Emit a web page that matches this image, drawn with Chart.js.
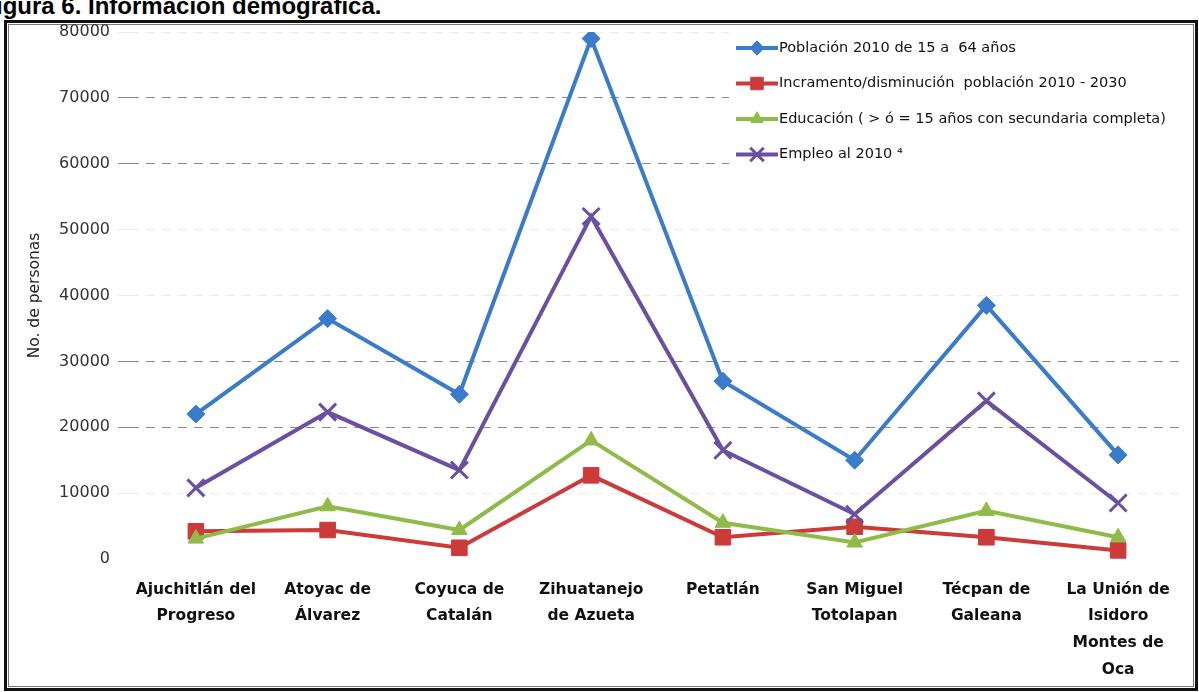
<html>
<head>
<style>
  body { margin: 0; background: #fff; }
  #wrap { position: relative; width: 1199px; height: 692px; overflow: hidden; background: #fff; }
  #titulo { position: absolute; left: -4px; top: -8px; font: bold 24px "Liberation Sans", Arial, sans-serif; color: #000; white-space: nowrap; }
  #marco { position: absolute; left: 4px; top: 20px; width: 1194px; height: 671px; box-sizing: border-box;
           border: 3px solid #111; box-shadow: inset 0 0 0 1px #fff, inset 0 0 0 2px #777; }
  #grafica { position: absolute; left: 0; top: 0; }
</style>
</head>
<body>
<div id="wrap">
  <div id="titulo">igura 6. Información demográfica.</div>
  <div id="marco"></div>
  <canvas id="grafica" width="1199" height="692"></canvas>
</div>
<script src="https://cdn.jsdelivr.net/npm/chart.js"></script>
<script>
const municipios = [
  ['Ajuchitlán del', 'Progreso'],
  ['Atoyac de', 'Álvarez'],
  ['Coyuca de', 'Catalán'],
  ['Zihuatanejo', 'de Azueta'],
  'Petatlán',
  ['San Miguel', 'Totolapan'],
  ['Técpan de', 'Galeana'],
  ['La Unión de', 'Isidoro', 'Montes de', 'Oca'],
];

const nombresSeries = [
  'Población 2010 de 15 a  64 años',
  'Incramento/disminución  población 2010 - 2030',
  'Educación ( > ó = 15 años con secundaria completa)',
  'Empleo al 2010 ⁴',
];

const poblacion = [22000, 36500, 25000, 79000, 27000, 15000, 38500, 15800];
const incremento = [4200, 4400, 1700, 12700, 3300, 4900, 3300, 1300];
const educacion = [3100, 8000, 4400, 18000, 5500, 2500, 7300, 3300];
const empleo = [10800, 22300, 13500, 52000, 16500, 6800, 24000, 8500];

const ticksY = [0, 10000, 20000, 30000, 40000, 50000, 60000, 70000, 80000];
// las líneas que se ven marcadas en la cuadrícula
const lineasMarcadas = [20000, 30000, 60000, 70000];

const colorLinea = (ctx) => {
  const v = ctx.tick ? ctx.tick.value : 0;
  if (v === 0) return 'rgba(0,0,0,0)';
  return lineasMarcadas.includes(v) ? '#8a8a8a' : '#ececec';
};

// leyenda dentro del área del gráfico, arriba a la derecha
const leyendaInterna = {
  id: 'leyendaInterna',
  afterDatasetsDraw(chart) {
    const {ctx, chartArea} = chart;
    const x0 = chartArea.right - 448;
    const y0 = chartArea.top;
    ctx.save();
    ctx.fillStyle = '#fff';
    ctx.fillRect(x0 - 7, y0 - 4, 450, 144);
    ctx.font = '14.5px "DejaVu Sans"';
    ctx.textBaseline = 'middle';
    chart.data.datasets.forEach((ds, i) => {
      const y = y0 + 16 + i * 35.5;
      ctx.strokeStyle = ds.borderColor;
      ctx.lineWidth = 4;
      ctx.beginPath();
      ctx.moveTo(x0, y);
      ctx.lineTo(x0 + 42, y);
      ctx.stroke();
      ctx.fillStyle = ds.pointBackgroundColor;
      ctx.strokeStyle = ds.pointBorderColor;
      ctx.lineWidth = ds.pointBorderWidth;
      Chart.helpers.drawPoint(ctx, {
        pointStyle: ds.pointStyle,
        radius: ds.pointRadius * 0.8,
        rotation: 0,
        borderWidth: ds.pointBorderWidth,
      }, x0 + 21, y);
      ctx.fillStyle = '#111';
      ctx.fillText(ds.label, x0 + 43, y);
    });
    ctx.restore();
  }
};

const serie = (label, data, color, estilo, radio, borde, orden) => ({
  label: label,
  data: data,
  borderColor: color,
  backgroundColor: color,
  borderWidth: 4,
  pointStyle: estilo,
  pointRadius: radio,
  pointBackgroundColor: color,
  pointBorderColor: color,
  pointBorderWidth: borde,
  tension: 0,
  order: orden,
});

const myChart = new Chart(document.getElementById('grafica'), {
  type: 'line',
  data: {
    labels: municipios,
    datasets: [
      serie(nombresSeries[0], poblacion, '#3a7bcb', 'rectRot', 9, 1, 4),
      serie(nombresSeries[1], incremento, '#cc3a3a', 'rect', 11, 1, 3),
      serie(nombresSeries[2], educacion, '#8fbc48', 'triangle', 9, 1, 2),
      serie(nombresSeries[3], empleo, '#6b4fa3', 'crossRot', 12, 3, 1),
    ]
  },
  options: {
    responsive: false,
    animation: false,
    devicePixelRatio: 1,
    layout: { padding: { top: 32, right: 4, left: 0, bottom: 0 } },
    plugins: {
      legend: { display: false },
      tooltip: { enabled: false },
    },
    scales: {
      x: {
        offset: true,
        grid: { display: false },
        border: { display: false },
        ticks: {
          autoSkip: false,
          maxRotation: 0,
          padding: 9,
          color: '#111',
          font: { family: 'DejaVu Sans', size: 15.5, weight: 'bold', lineHeight: 1.74 },
        },
        afterFit(scale) { scale.height = 133; },
      },
      y: {
        min: 0,
        max: 80000,
        afterBuildTicks(scale) { scale.ticks = ticksY.map(v => ({ value: v })); },
        grid: {
          color: colorLinea,
          tickColor: colorLinea,
          tickLength: 12,
          lineWidth: 1,
        },
        border: { display: false, dash: [9, 7] },
        ticks: {
          padding: 8,
          color: '#333',
          font: { family: 'DejaVu Sans', size: 16 },
          callback: (v) => String(v),
        },
        title: {
          display: true,
          text: 'No. de personas',
          color: '#222',
          font: { family: 'DejaVu Sans', size: 15.5 },
          padding: { top: 26, bottom: 0 },
        },
        afterFit(scale) { scale.width = 130; },
      }
    }
  },
  plugins: [leyendaInterna],
});
</script>
</body>
</html>
